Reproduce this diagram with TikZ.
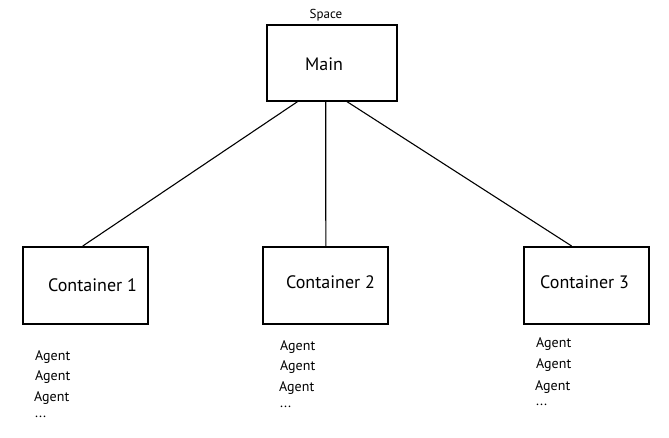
\documentclass[tikz,border=0pt]{standalone}
\usepackage{fontspec}
\setmainfont{PT Sans}
\usetikzlibrary{calc}
\begin{document}
\begin{tikzpicture}[x=1pt,y=-1pt,
  box/.style={draw,line width=1.6pt,minimum width=#1,minimum height=77pt,inner sep=0pt,anchor=north west},
  lbl/.style={inner sep=0pt,anchor=west,font=\fontsize{18}{20}\selectfont},
  agent/.style={inner sep=0pt,anchor=west,font=\fontsize{14}{16}\selectfont},
  dots/.style={inner sep=0pt,anchor=base west,font=\fontsize{14}{16}\selectfont},
  conn/.style={line width=1.1pt}]
\useasboundingbox (0,0) rectangle (669,437);
\node[box=130pt,minimum height=76pt] (main) at (266,24) {};
\node[inner sep=0pt,font=\fontsize{13}{15}\selectfont] (space) at (326,15) {Space};
\node[lbl] (maint) at (305,64) {Main};
\node[box=125pt] (c1) at (22,246) {};
\node[box=125pt] (c2) at (262,246) {};
\node[box=125pt] (c3) at (523,246) {};
\node[lbl] (c1t) at (48,285) {Container 1};
\node[lbl] (c2t) at (286,282) {Container 2};
\node[lbl] (c3t) at (540,282) {Container 3};
\draw[conn] ($(main.south west)!0.24!(main.south east)$) -- ($(c1.north west)!0.48!(c1.north east)$);
\draw[conn] ($(main.south west)!0.454!(main.south east)$) -- ($(c2.north west)!0.504!(c2.north east)$);
\draw[conn] ($(main.south west)!0.615!(main.south east)$) -- ($(c3.north west)!0.384!(c3.north east)$);
\node[agent] (a11) at (35,357) {Agent};
\node[agent] (a12) at (35,377) {Agent};
\node[agent] (a13) at (34,398) {Agent};
\node[dots] (a14) at (35,417) {...};
\node[agent] (a21) at (280,347) {Agent};
\node[agent] (a22) at (280,367) {Agent};
\node[agent] (a23) at (279,388) {Agent};
\node[dots] (a24) at (280,407) {...};
\node[agent] (a31) at (536,344) {Agent};
\node[agent] (a32) at (536,365) {Agent};
\node[agent] (a33) at (535,387) {Agent};
\node[dots] (a34) at (536,405) {...};
\end{tikzpicture}
\end{document}
